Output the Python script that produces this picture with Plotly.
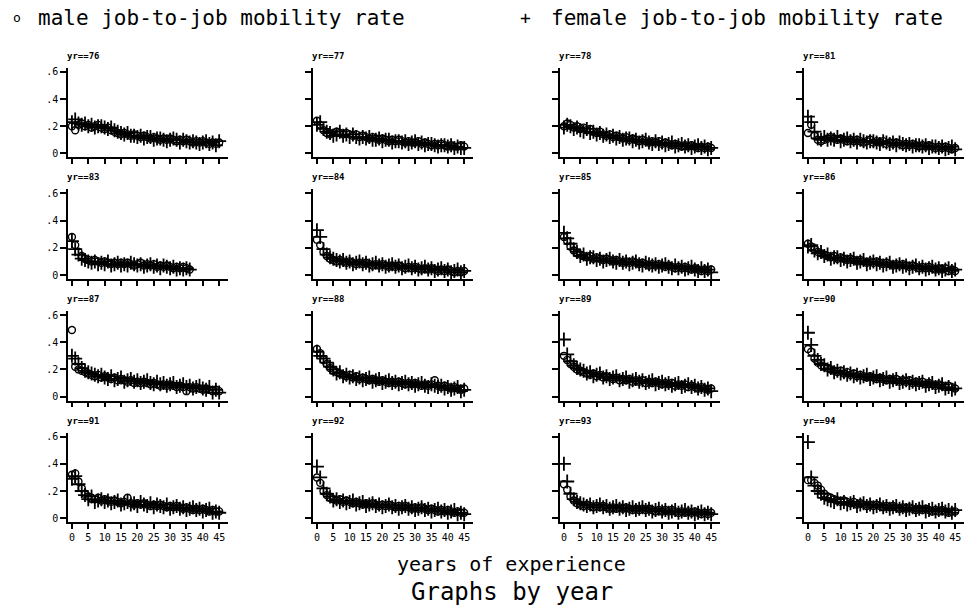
import plotly.graph_objects as go

W, H = 969, 609

years = [76, 77, 78, 81, 83, 84, 85, 86, 87, 88, 89, 90, 91, 92, 93, 94]
panel_titles = ["yr==%d" % y for y in years]
x_ticks = [0, 5, 10, 15, 20, 25, 30, 35, 40, 45]
x_tick_labels = ["0", "5", "10", "15", "20", "25", "30", "35", "40", "45"]
y_ticks = [0, 0.2, 0.4, 0.6]
y_tick_labels = ["0", ".2", ".4", ".6"]

male_76 = [0.20, 0.17, 0.21, 0.22, 0.20, 0.21, 0.19, 0.20, 0.21, 0.19, 0.18, 0.19, 0.17, 0.16, 0.15, 0.14, 0.15, 0.14, 0.13, 0.14, 0.13, 0.12, 0.13, 0.12, 0.11, 0.12, 0.11, 0.10, 0.11, 0.10, 0.11, 0.10, 0.09, 0.10, 0.09, 0.10, 0.09, 0.08, 0.09, 0.08, 0.09, 0.08, 0.07, 0.08, 0.07, 0.08]
female_76 = [0.23, 0.25, 0.22, 0.21, 0.22, 0.20, 0.21, 0.19, 0.20, 0.20, 0.19, 0.18, 0.19, 0.17, 0.16, 0.15, 0.14, 0.15, 0.13, 0.13, 0.12, 0.13, 0.11, 0.12, 0.12, 0.10, 0.11, 0.11, 0.10, 0.09, 0.10, 0.11, 0.10, 0.08, 0.10, 0.09, 0.08, 0.09, 0.08, 0.07, 0.08, 0.09, 0.07, 0.08, 0.06, 0.09]
male_77 = [0.24, 0.21, 0.17, 0.15, 0.14, 0.15, 0.16, 0.15, 0.14, 0.15, 0.14, 0.13, 0.14, 0.12, 0.13, 0.12, 0.11, 0.12, 0.11, 0.10, 0.11, 0.10, 0.09, 0.10, 0.09, 0.10, 0.09, 0.08, 0.09, 0.08, 0.08, 0.09, 0.07, 0.08, 0.07, 0.06, 0.07, 0.06, 0.07, 0.06, 0.05, 0.06, 0.05, 0.05, 0.06, 0.05]
female_77 = [0.21, 0.23, 0.18, 0.16, 0.15, 0.13, 0.14, 0.16, 0.13, 0.14, 0.12, 0.14, 0.12, 0.11, 0.12, 0.11, 0.12, 0.10, 0.10, 0.11, 0.09, 0.10, 0.10, 0.08, 0.09, 0.09, 0.08, 0.09, 0.07, 0.08, 0.09, 0.07, 0.08, 0.06, 0.07, 0.07, 0.06, 0.05, 0.06, 0.06, 0.05, 0.06, 0.04, 0.05, 0.04, 0.04]
male_78 = [0.20, 0.22, 0.21, 0.19, 0.20, 0.18, 0.19, 0.17, 0.18, 0.16, 0.15, 0.16, 0.14, 0.13, 0.14, 0.12, 0.13, 0.12, 0.11, 0.12, 0.10, 0.11, 0.10, 0.09, 0.10, 0.09, 0.08, 0.09, 0.08, 0.09, 0.07, 0.08, 0.07, 0.06, 0.07, 0.06, 0.05, 0.06, 0.05, 0.06, 0.05, 0.04, 0.05, 0.04, 0.05, 0.04]
female_78 = [0.19, 0.21, 0.20, 0.18, 0.19, 0.17, 0.16, 0.18, 0.15, 0.16, 0.14, 0.15, 0.13, 0.14, 0.12, 0.13, 0.11, 0.12, 0.10, 0.11, 0.11, 0.09, 0.10, 0.08, 0.09, 0.10, 0.08, 0.07, 0.09, 0.07, 0.08, 0.06, 0.07, 0.08, 0.05, 0.06, 0.07, 0.05, 0.06, 0.04, 0.05, 0.06, 0.04, 0.05, 0.03, 0.04]
male_81 = [0.15, 0.21, 0.13, 0.10, 0.09, 0.10, 0.11, 0.12, 0.11, 0.10, 0.11, 0.10, 0.09, 0.10, 0.09, 0.10, 0.09, 0.08, 0.09, 0.10, 0.08, 0.09, 0.08, 0.09, 0.07, 0.08, 0.07, 0.08, 0.07, 0.06, 0.07, 0.06, 0.07, 0.06, 0.05, 0.06, 0.05, 0.06, 0.05, 0.04, 0.05, 0.04, 0.05, 0.04, 0.03, 0.04]
female_81 = [0.27, 0.23, 0.16, 0.11, 0.10, 0.12, 0.10, 0.11, 0.10, 0.12, 0.09, 0.10, 0.11, 0.09, 0.10, 0.08, 0.10, 0.09, 0.08, 0.09, 0.09, 0.08, 0.07, 0.09, 0.08, 0.07, 0.08, 0.06, 0.08, 0.07, 0.06, 0.07, 0.05, 0.06, 0.06, 0.05, 0.06, 0.04, 0.05, 0.05, 0.04, 0.05, 0.03, 0.04, 0.05, 0.03]
male_83 = [0.28, 0.22, 0.17, 0.14, 0.12, 0.11, 0.10, 0.11, 0.10, 0.09, 0.10, 0.09, 0.08, 0.09, 0.08, 0.09, 0.08, 0.09, 0.08, 0.07, 0.08, 0.09, 0.07, 0.08, 0.07, 0.08, 0.06, 0.07, 0.06, 0.07, 0.06, 0.05, 0.06, 0.05, 0.06, 0.05, 0.04]
female_83 = [0.25, 0.19, 0.15, 0.12, 0.11, 0.10, 0.09, 0.10, 0.08, 0.09, 0.08, 0.10, 0.07, 0.08, 0.09, 0.07, 0.08, 0.07, 0.09, 0.08, 0.07, 0.08, 0.06, 0.07, 0.08, 0.06, 0.07, 0.05, 0.07, 0.06, 0.05, 0.06, 0.04, 0.05, 0.04, 0.05, 0.04]
male_84 = [0.26, 0.22, 0.17, 0.14, 0.12, 0.11, 0.10, 0.11, 0.10, 0.09, 0.10, 0.09, 0.08, 0.09, 0.08, 0.09, 0.08, 0.07, 0.08, 0.07, 0.08, 0.07, 0.06, 0.07, 0.06, 0.07, 0.06, 0.05, 0.06, 0.05, 0.06, 0.05, 0.04, 0.05, 0.04, 0.05, 0.04, 0.03, 0.04, 0.03, 0.04, 0.03, 0.02, 0.03, 0.02, 0.03]
female_84 = [0.33, 0.28, 0.19, 0.15, 0.13, 0.12, 0.11, 0.10, 0.11, 0.09, 0.10, 0.08, 0.09, 0.10, 0.08, 0.09, 0.07, 0.08, 0.09, 0.07, 0.08, 0.06, 0.07, 0.08, 0.06, 0.07, 0.05, 0.06, 0.07, 0.05, 0.06, 0.04, 0.05, 0.06, 0.04, 0.05, 0.03, 0.04, 0.05, 0.03, 0.04, 0.02, 0.03, 0.04, 0.02, 0.03]
male_85 = [0.28, 0.25, 0.21, 0.18, 0.16, 0.15, 0.14, 0.13, 0.14, 0.12, 0.13, 0.12, 0.11, 0.12, 0.11, 0.10, 0.11, 0.10, 0.09, 0.10, 0.09, 0.10, 0.09, 0.08, 0.09, 0.08, 0.07, 0.08, 0.07, 0.08, 0.07, 0.06, 0.07, 0.06, 0.05, 0.06, 0.05, 0.06, 0.05, 0.04, 0.05, 0.04, 0.03, 0.04, 0.03, 0.04]
female_85 = [0.31, 0.27, 0.23, 0.19, 0.17, 0.14, 0.15, 0.12, 0.13, 0.13, 0.11, 0.12, 0.10, 0.11, 0.12, 0.10, 0.09, 0.11, 0.09, 0.10, 0.08, 0.09, 0.10, 0.08, 0.07, 0.09, 0.08, 0.07, 0.08, 0.06, 0.07, 0.08, 0.06, 0.05, 0.07, 0.05, 0.06, 0.04, 0.05, 0.06, 0.04, 0.03, 0.05, 0.03, 0.04, 0.02]
male_86 = [0.23, 0.21, 0.19, 0.17, 0.16, 0.15, 0.14, 0.13, 0.14, 0.12, 0.13, 0.12, 0.11, 0.12, 0.11, 0.10, 0.11, 0.10, 0.09, 0.10, 0.09, 0.10, 0.09, 0.08, 0.09, 0.08, 0.07, 0.08, 0.07, 0.08, 0.07, 0.06, 0.07, 0.06, 0.05, 0.06, 0.05, 0.06, 0.05, 0.04, 0.05, 0.04, 0.05, 0.03, 0.04, 0.03]
female_86 = [0.21, 0.22, 0.18, 0.16, 0.17, 0.14, 0.15, 0.12, 0.13, 0.13, 0.11, 0.12, 0.10, 0.11, 0.12, 0.09, 0.10, 0.11, 0.08, 0.09, 0.10, 0.08, 0.09, 0.07, 0.08, 0.09, 0.06, 0.07, 0.08, 0.06, 0.07, 0.05, 0.06, 0.07, 0.05, 0.06, 0.04, 0.05, 0.06, 0.04, 0.05, 0.03, 0.04, 0.05, 0.03, 0.04]
male_87 = [0.49, 0.22, 0.20, 0.19, 0.18, 0.17, 0.16, 0.15, 0.16, 0.14, 0.15, 0.14, 0.13, 0.14, 0.12, 0.13, 0.12, 0.11, 0.12, 0.10, 0.11, 0.10, 0.11, 0.10, 0.09, 0.10, 0.09, 0.08, 0.09, 0.08, 0.09, 0.08, 0.07, 0.08, 0.07, 0.04, 0.07, 0.06, 0.07, 0.06, 0.05, 0.06, 0.05, 0.04, 0.05, 0.04]
female_87 = [0.30, 0.28, 0.24, 0.21, 0.19, 0.18, 0.17, 0.16, 0.15, 0.16, 0.14, 0.13, 0.15, 0.12, 0.13, 0.14, 0.11, 0.12, 0.13, 0.11, 0.12, 0.10, 0.11, 0.12, 0.10, 0.09, 0.11, 0.09, 0.10, 0.08, 0.09, 0.10, 0.07, 0.08, 0.09, 0.07, 0.08, 0.06, 0.07, 0.08, 0.06, 0.05, 0.07, 0.03, 0.05, 0.03]
male_88 = [0.35, 0.32, 0.27, 0.24, 0.21, 0.19, 0.18, 0.17, 0.16, 0.15, 0.16, 0.14, 0.15, 0.13, 0.14, 0.13, 0.12, 0.13, 0.12, 0.11, 0.12, 0.11, 0.10, 0.11, 0.10, 0.11, 0.10, 0.09, 0.10, 0.09, 0.10, 0.09, 0.08, 0.09, 0.08, 0.09, 0.12, 0.08, 0.07, 0.08, 0.07, 0.06, 0.07, 0.06, 0.05, 0.06]
female_88 = [0.33, 0.30, 0.28, 0.25, 0.22, 0.20, 0.17, 0.18, 0.15, 0.16, 0.14, 0.15, 0.13, 0.14, 0.12, 0.13, 0.14, 0.11, 0.12, 0.13, 0.10, 0.11, 0.12, 0.10, 0.11, 0.09, 0.10, 0.11, 0.09, 0.10, 0.08, 0.09, 0.10, 0.08, 0.07, 0.09, 0.08, 0.07, 0.08, 0.06, 0.07, 0.05, 0.06, 0.07, 0.04, 0.05]
male_89 = [0.30, 0.27, 0.24, 0.22, 0.20, 0.19, 0.18, 0.17, 0.16, 0.17, 0.15, 0.16, 0.14, 0.15, 0.14, 0.13, 0.14, 0.12, 0.13, 0.12, 0.13, 0.11, 0.12, 0.11, 0.12, 0.10, 0.11, 0.10, 0.11, 0.10, 0.09, 0.10, 0.09, 0.10, 0.08, 0.09, 0.08, 0.09, 0.07, 0.08, 0.07, 0.06, 0.07, 0.06, 0.05, 0.06]
female_89 = [0.42, 0.31, 0.26, 0.23, 0.21, 0.20, 0.19, 0.17, 0.18, 0.15, 0.16, 0.17, 0.14, 0.15, 0.13, 0.14, 0.15, 0.12, 0.13, 0.14, 0.11, 0.12, 0.13, 0.11, 0.12, 0.10, 0.11, 0.12, 0.09, 0.10, 0.11, 0.09, 0.10, 0.08, 0.09, 0.10, 0.07, 0.08, 0.09, 0.07, 0.08, 0.06, 0.07, 0.05, 0.06, 0.04]
male_90 = [0.35, 0.33, 0.28, 0.25, 0.23, 0.22, 0.21, 0.20, 0.19, 0.18, 0.19, 0.17, 0.18, 0.16, 0.17, 0.15, 0.16, 0.15, 0.14, 0.15, 0.14, 0.13, 0.14, 0.13, 0.12, 0.13, 0.12, 0.13, 0.11, 0.12, 0.11, 0.12, 0.10, 0.11, 0.10, 0.11, 0.09, 0.10, 0.09, 0.08, 0.09, 0.08, 0.07, 0.08, 0.07, 0.06]
female_90 = [0.47, 0.38, 0.30, 0.27, 0.24, 0.23, 0.20, 0.21, 0.18, 0.19, 0.17, 0.18, 0.16, 0.17, 0.15, 0.16, 0.14, 0.15, 0.16, 0.13, 0.14, 0.15, 0.12, 0.13, 0.14, 0.11, 0.12, 0.13, 0.10, 0.11, 0.12, 0.10, 0.11, 0.09, 0.10, 0.11, 0.08, 0.09, 0.10, 0.07, 0.08, 0.09, 0.06, 0.07, 0.05, 0.06]
male_91 = [0.32, 0.33, 0.27, 0.22, 0.18, 0.16, 0.15, 0.14, 0.15, 0.13, 0.14, 0.13, 0.12, 0.13, 0.12, 0.11, 0.12, 0.15, 0.11, 0.10, 0.11, 0.10, 0.11, 0.10, 0.09, 0.10, 0.09, 0.10, 0.09, 0.08, 0.09, 0.08, 0.09, 0.08, 0.07, 0.08, 0.07, 0.06, 0.07, 0.06, 0.07, 0.06, 0.05, 0.06, 0.05, 0.05]
female_91 = [0.29, 0.31, 0.25, 0.20, 0.17, 0.14, 0.16, 0.12, 0.13, 0.14, 0.12, 0.13, 0.11, 0.12, 0.13, 0.10, 0.11, 0.12, 0.10, 0.11, 0.09, 0.12, 0.10, 0.09, 0.11, 0.08, 0.10, 0.09, 0.08, 0.10, 0.07, 0.08, 0.09, 0.07, 0.08, 0.06, 0.07, 0.08, 0.06, 0.07, 0.05, 0.06, 0.07, 0.04, 0.05, 0.04]
male_92 = [0.30, 0.26, 0.20, 0.17, 0.15, 0.14, 0.13, 0.14, 0.12, 0.13, 0.12, 0.11, 0.12, 0.11, 0.10, 0.11, 0.10, 0.11, 0.10, 0.09, 0.10, 0.09, 0.10, 0.09, 0.08, 0.09, 0.08, 0.09, 0.08, 0.07, 0.08, 0.07, 0.08, 0.07, 0.06, 0.07, 0.06, 0.05, 0.06, 0.05, 0.06, 0.05, 0.04, 0.05, 0.04, 0.04]
female_92 = [0.38, 0.30, 0.22, 0.18, 0.16, 0.13, 0.14, 0.12, 0.13, 0.11, 0.12, 0.13, 0.10, 0.11, 0.12, 0.09, 0.10, 0.11, 0.09, 0.10, 0.08, 0.09, 0.10, 0.08, 0.09, 0.07, 0.08, 0.09, 0.07, 0.08, 0.06, 0.07, 0.08, 0.06, 0.07, 0.05, 0.06, 0.07, 0.05, 0.06, 0.04, 0.05, 0.06, 0.03, 0.04, 0.03]
male_93 = [0.25, 0.21, 0.16, 0.13, 0.11, 0.10, 0.09, 0.10, 0.09, 0.08, 0.09, 0.08, 0.09, 0.08, 0.07, 0.08, 0.07, 0.08, 0.07, 0.08, 0.07, 0.06, 0.07, 0.06, 0.07, 0.06, 0.07, 0.06, 0.05, 0.06, 0.05, 0.06, 0.05, 0.06, 0.05, 0.04, 0.05, 0.04, 0.05, 0.04, 0.05, 0.04, 0.03, 0.04, 0.03, 0.04]
female_93 = [0.40, 0.27, 0.18, 0.14, 0.12, 0.11, 0.10, 0.09, 0.10, 0.08, 0.09, 0.10, 0.08, 0.09, 0.07, 0.08, 0.09, 0.07, 0.08, 0.06, 0.07, 0.08, 0.06, 0.07, 0.08, 0.06, 0.07, 0.05, 0.06, 0.07, 0.05, 0.06, 0.04, 0.05, 0.06, 0.04, 0.05, 0.06, 0.04, 0.05, 0.03, 0.04, 0.05, 0.03, 0.04, 0.03]
male_94 = [0.28, 0.28, 0.26, 0.24, 0.21, 0.18, 0.16, 0.15, 0.14, 0.13, 0.12, 0.13, 0.12, 0.11, 0.12, 0.10, 0.11, 0.10, 0.09, 0.10, 0.09, 0.10, 0.09, 0.08, 0.09, 0.08, 0.09, 0.08, 0.07, 0.08, 0.07, 0.08, 0.07, 0.06, 0.07, 0.06, 0.07, 0.06, 0.05, 0.06, 0.05, 0.06, 0.05, 0.04, 0.05, 0.05]
female_94 = [0.56, 0.30, 0.24, 0.20, 0.18, 0.15, 0.14, 0.13, 0.12, 0.14, 0.11, 0.12, 0.10, 0.11, 0.12, 0.09, 0.10, 0.11, 0.09, 0.10, 0.08, 0.09, 0.10, 0.08, 0.09, 0.07, 0.08, 0.09, 0.07, 0.08, 0.06, 0.07, 0.08, 0.06, 0.07, 0.08, 0.05, 0.06, 0.07, 0.05, 0.06, 0.07, 0.05, 0.06, 0.04, 0.06]

male_series = [male_76, male_77, male_78, male_81, male_83, male_84, male_85, male_86,
               male_87, male_88, male_89, male_90, male_91, male_92, male_93, male_94]
female_series = [female_76, female_77, female_78, female_81, female_83, female_84, female_85, female_86,
                 female_87, female_88, female_89, female_90, female_91, female_92, female_93, female_94]

FONT = "DejaVu Sans Mono"
col_left = [68, 313, 560, 804]
col_width = 160
row_top = [67, 189, 311, 433]
row_height = 90

fig = go.Figure()
layout = {}
annotations = []

for i, yr in enumerate(years):
    r, c = divmod(i, 4)
    n = i + 1
    xa = "x" if n == 1 else "x%d" % n
    ya = "y" if n == 1 else "y%d" % n
    xkey = "xaxis" if n == 1 else "xaxis%d" % n
    ykey = "yaxis" if n == 1 else "yaxis%d" % n
    m = male_series[i]
    f = female_series[i]
    fig.add_trace(go.Scatter(
        x=list(range(len(m))), y=m, xaxis=xa, yaxis=ya, mode="markers",
        name="male job-to-job mobility rate", showlegend=False,
        marker=dict(symbol="circle-open", size=7, color="black", line=dict(width=1.4, color="black"))))
    fig.add_trace(go.Scatter(
        x=list(range(len(f))), y=f, xaxis=xa, yaxis=ya, mode="markers",
        name="female job-to-job mobility rate", showlegend=False,
        marker=dict(symbol="cross-thin", size=10, color="black", line=dict(width=1.8, color="black"))))

    x0 = col_left[c] / W
    x1 = (col_left[c] + col_width) / W
    y1 = 1 - row_top[r] / H
    y0 = 1 - (row_top[r] + row_height) / H
    layout[xkey] = dict(
        domain=[x0, x1], range=[-1.2, 47.7], anchor=ya,
        showline=True, linecolor="black", linewidth=1.5, mirror=False,
        showgrid=False, zeroline=False,
        ticks="outside", ticklen=5, tickwidth=1.5, tickcolor="black",
        tickvals=x_ticks, ticktext=x_tick_labels, showticklabels=(r == 3),
        tickfont=dict(family=FONT, size=10, color="black"),
    )
    layout[ykey] = dict(
        domain=[y0, y1], range=[-0.03, 0.63], anchor=xa,
        showline=True, linecolor="black", linewidth=1.5,
        showgrid=False, zeroline=False,
        ticks="outside", ticklen=6, tickwidth=1.5, tickcolor="black",
        tickvals=y_ticks, ticktext=y_tick_labels, showticklabels=(c == 0),
        tickfont=dict(family=FONT, size=10, color="black"),
    )
    annotations.append(dict(
        text="<b>%s</b>" % panel_titles[i], xref="paper", yref="paper",
        x=(col_left[c] - 3) / W, y=1 - (row_top[r] - 5) / H,
        xanchor="left", yanchor="bottom", showarrow=False,
        font=dict(family=FONT, size=9, color="black")))

annotations += [
    dict(text="o", xref="paper", yref="paper", x=17 / W, y=1 - 17 / H,
         xanchor="center", yanchor="middle", showarrow=False,
         font=dict(family=FONT, size=13, color="black")),
    dict(text="male job-to-job mobility rate", xref="paper", yref="paper", x=36 / W, y=1 - 17 / H,
         xanchor="left", yanchor="middle", showarrow=False,
         font=dict(family=FONT, size=21, color="black")),
    dict(text="+", xref="paper", yref="paper", x=525 / W, y=1 - 17 / H,
         xanchor="center", yanchor="middle", showarrow=False,
         font=dict(family=FONT, size=18, color="black")),
    dict(text="female job-to-job mobility rate", xref="paper", yref="paper", x=549 / W, y=1 - 17 / H,
         xanchor="left", yanchor="middle", showarrow=False,
         font=dict(family=FONT, size=21, color="black")),
    dict(text="years of experience", xref="paper", yref="paper", x=512 / W, y=1 - 565 / H,
         xanchor="center", yanchor="middle", showarrow=False,
         font=dict(family=FONT, size=20, color="black")),
    dict(text="Graphs by year", xref="paper", yref="paper", x=512 / W, y=1 - 593 / H,
         xanchor="center", yanchor="middle", showarrow=False,
         font=dict(family=FONT, size=24, color="black")),
]

fig.update_layout(
    width=W, height=H, margin=dict(l=0, r=0, t=0, b=0),
    paper_bgcolor="white", plot_bgcolor="white",
    showlegend=False, annotations=annotations, **layout)

fig.write_html(
    "out.html",
    config={"displayModeBar": False},
    post_script="document.body.style.margin='0';document.body.style.overflow='hidden';",
)
